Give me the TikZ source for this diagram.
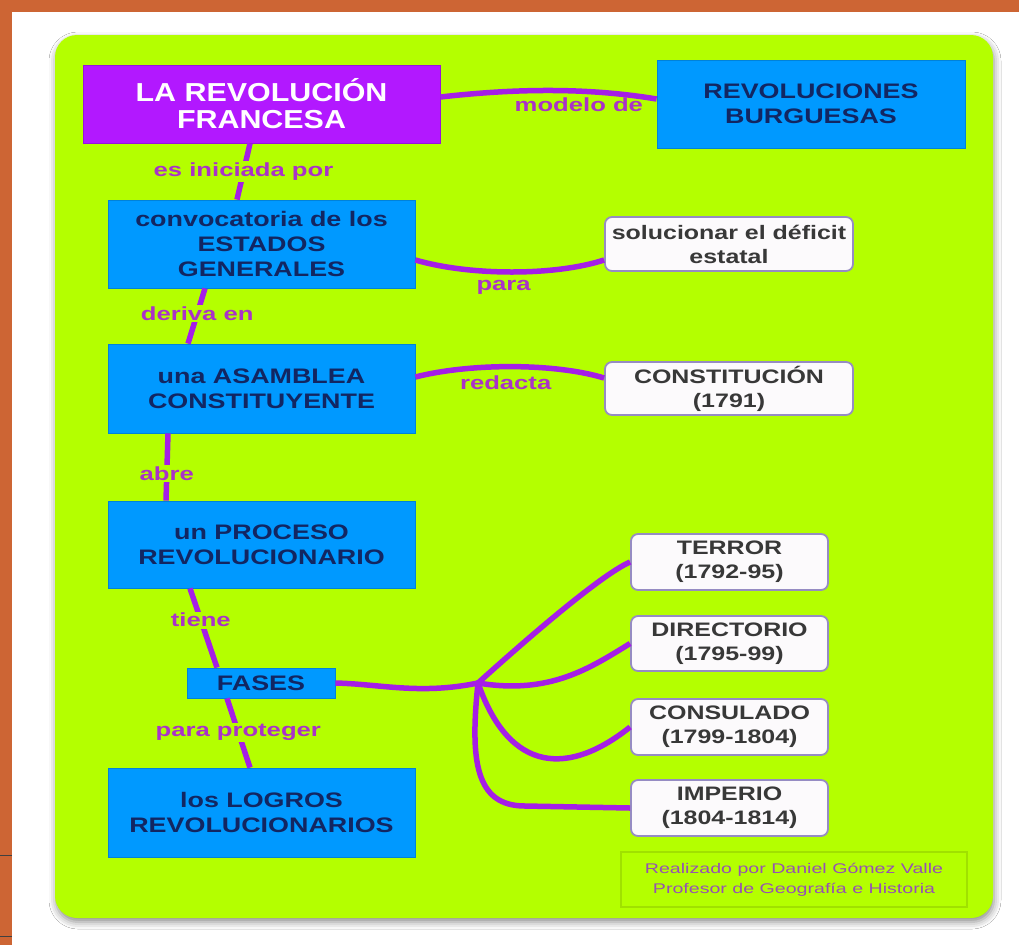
\documentclass[tikz,border=0pt]{standalone}
\usepackage{fontspec}
\setmainfont{Liberation Sans}
\newfontfamily\boxfont[FakeStretch=1.28]{Liberation Sans}
\newfontfamily\titlefont[FakeStretch=1.17]{Liberation Sans}
\newfontfamily\labfont[FakeStretch=1.35]{Liberation Sans}
\newfontfamily\credfont[FakeStretch=1.4]{Liberation Sans}
\usetikzlibrary{shadows.blur,calc}
\definecolor{cOrange}{RGB}{205,101,52}
\definecolor{cLime}{RGB}{180,255,0}
\definecolor{cPurple}{RGB}{178,24,255}
\definecolor{cBlue}{RGB}{0,153,255}
\definecolor{cNavy}{RGB}{18,38,98}
\definecolor{cLine}{RGB}{165,30,230}
\definecolor{cLab}{RGB}{170,50,200}
\definecolor{cWhite}{RGB}{252,250,252}
\definecolor{cWBorder}{RGB}{150,140,195}
\definecolor{cCredBorder}{RGB}{160,225,0}
\definecolor{cCredText}{RGB}{150,80,180}
\tikzset{
  titlebox/.style={fill=cPurple, draw=cPurple!85!black, line width=1pt, text=white,
    font=\titlefont\bfseries\fontsize{26}{27}\selectfont, align=center, inner sep=0pt},
  bbox/.style={fill=cBlue, draw=cBlue!85!black, line width=0.8pt, text=cNavy,
    font=\boxfont\bfseries\fontsize{21}{25}\selectfont, align=center, inner sep=0pt,
    minimum width=307pt, minimum height=88pt},
  wbox/.style={fill=cWhite, draw=cWBorder, line width=1.8pt, rounded corners=7pt,
    text=black!78, font=\boxfont\bfseries\fontsize{19.5}{24}\selectfont, align=center,
    inner sep=0pt, minimum width=197pt, minimum height=56pt},
  conn/.style={draw=cLine, line width=5.5pt},
  lab/.style={font=\labfont\bfseries\fontsize{19}{22}\selectfont, text=cLab, inner sep=1.5pt},
  labfill/.style={lab, fill=cLime},
  credbox/.style={draw=cCredBorder, line width=1.2pt, text=cCredText,
    font=\credfont\fontsize{14}{20}\selectfont, align=center, inner sep=0pt,
    minimum width=346pt, minimum height=55pt}
}
\begin{document}
\begin{tikzpicture}[x=1pt,y=-1pt]
\useasboundingbox (0,0) rectangle (1019,945);
% background
\fill[cOrange] (0,0) rectangle (1019,945);
\fill[white] (12,12) rectangle (1019,945);
\draw[black!75, line width=1pt] (0,855) -- (12,855);
\draw[black!75, line width=1pt] (0,936) -- (12,936);
\fill[cLime, rounded corners=22pt, blur shadow={shadow xshift=1pt, shadow yshift=-4pt, shadow blur radius=7pt, shadow opacity=45}]
  (55,35) rectangle (993,918);

% nodes
\node[titlebox, minimum width=357pt, minimum height=78pt] (title) at (261.5,104) {LA REVOLUCIÓN\\FRANCESA};
\node[bbox, minimum width=308pt] (burg) at (811,104) {REVOLUCIONES\\BURGUESAS};
\node[bbox] (conv) at (261.5,244) {convocatoria de los\\ESTADOS\\GENERALES};
\node[bbox, minimum height=89pt] (asam) at (261.5,388.5) {una ASAMBLEA\\CONSTITUYENTE};
\node[bbox, minimum height=87pt] (proc) at (261.5,544.5) {un PROCESO\\REVOLUCIONARIO};
\node[bbox, minimum width=148pt, minimum height=30pt] (fases) at (261,683) {FASES};
\node[bbox, minimum height=89pt] (logros) at (261.5,812.5) {los LOGROS\\REVOLUCIONARIOS};

\node[wbox, minimum width=248pt, minimum height=54pt] (sol) at (729,244) {solucionar el déficit\\estatal};
\node[wbox, minimum width=248pt, minimum height=53pt] (const) at (729,388.5) {CONSTITUCIÓN\\(1791)};
\node[wbox] (terror) at (729.5,562) {TERROR\\(1792-95)};
\node[wbox, minimum height=55pt] (direct) at (729.5,643.5) {DIRECTORIO\\(1795-99)};
\node[wbox] (consul) at (729.5,727) {CONSULADO\\(1799-1804)};
\node[wbox] (imperio) at (729.5,808) {IMPERIO\\(1804-1814)};

\node[credbox] (cred) at (794,879.5) {Realizado por Daniel Gómez Valle\\Profesor de Geografía e Historia};

% vertical connectors
\draw[conn] ([xshift=-11.5pt]title.south) -- ([xshift=-24.5pt]conv.north)
  node[labfill, pos=0.5] {es iniciada por};
\draw[conn] ([xshift=-56.5pt]conv.south) -- ([xshift=-73.5pt]asam.north)
  node[labfill, pos=0.46] {deriva en};
\draw[conn] ([xshift=-93.5pt]asam.south) -- ([xshift=-95.5pt]proc.north)
  node[labfill, pos=0.6] {abre};
\draw[conn] ([xshift=-71.5pt]proc.south) -- ([xshift=-44pt]fases.north)
  node[labfill, pos=0.4] {tiene};
\draw[conn] ([xshift=-34pt]fases.south) -- ([xshift=-11.5pt]logros.north)
  node[labfill, pos=0.49] {para proteger};

% horizontal connectors
\draw[conn] (title.east |- 0,97) .. controls (520,88) and (590,88) .. (burg.west |- 0,99)
  node[lab, pos=0.62, below=2.5pt] {modelo de};
\draw[conn] (conv.east |- 0,260) .. controls (470,276) and (555,276) .. (sol.west |- 0,260)
  node[lab, pos=0.46, below=4.5pt] {para};
\draw[conn] (asam.east |- 0,377) .. controls (470,363) and (555,363) .. (const.west |- 0,378)
  node[lab, pos=0.47, below=5pt] {redacta};

% phases
\coordinate (hub) at (478,683);
\draw[conn] (fases.east) .. controls (380,684) and (420,695) .. (hub);
\draw[conn] (hub) .. controls (520,645) and (600,575) .. (terror.west);
\draw[conn] (hub) .. controls (550,695) and (590,668) .. (direct.west);
\draw[conn] (hub) .. controls (510,775) and (570,775) .. (consul.west);
\draw[conn] (hub) .. controls (470,760) and (475,806) .. (525,806) -- (imperio.west);
\fill[cLine] (hub) circle[radius=3pt];
\end{tikzpicture}
\end{document}
